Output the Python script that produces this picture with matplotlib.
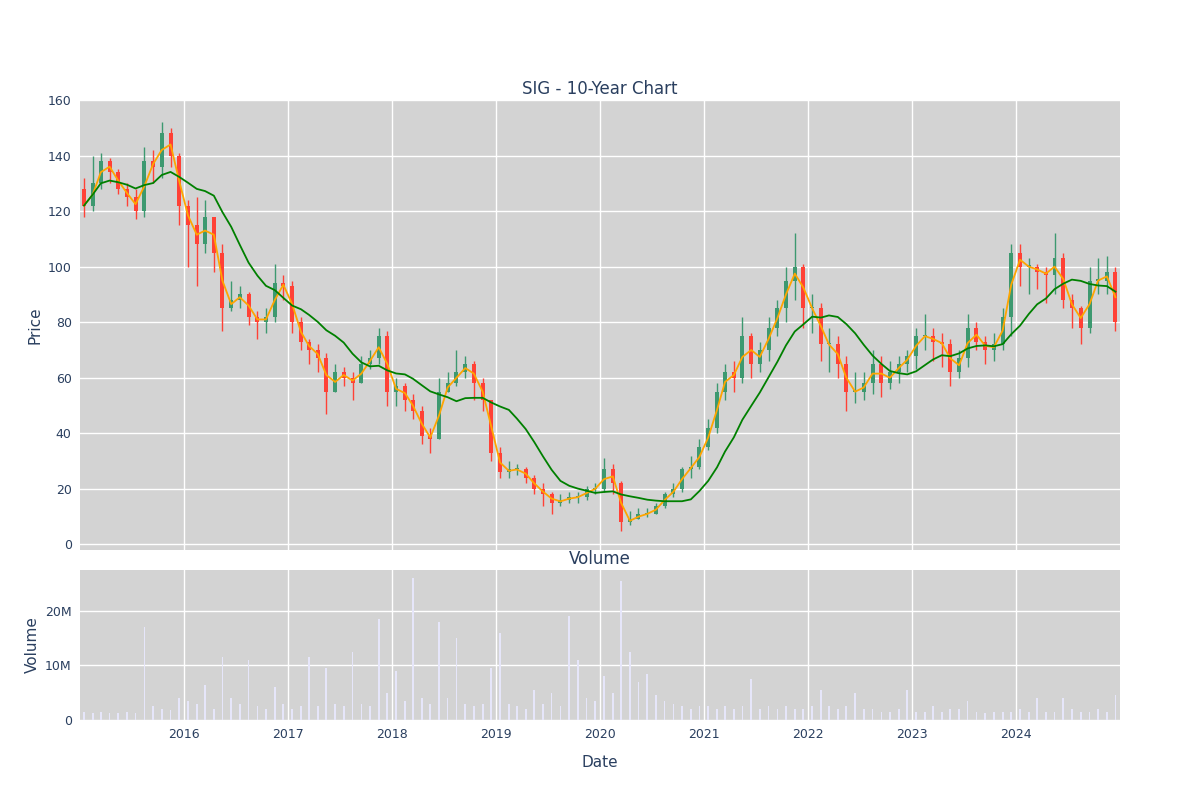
import matplotlib
matplotlib.use("Agg")
import matplotlib.pyplot as plt
import matplotlib.dates as mdates
import pandas as pd
import numpy as np

months = pd.date_range("2015-01-01", periods=120, freq="MS") + pd.Timedelta(days=14)
close = [122,130,138,134,128,125,120,138,136,148,140,122,
         115,108,118,105,85,88,90,82,80,82,94,93,
         80,73,70,67,55,62,60,58,65,67,75,55,
         57,52,48,39,38,55,58,62,65,58,52,33,
         26,27,27,24,20,18,15,16,17,17,20,20,
         27,22,8,9,11,11,14,18,20,27,28,35,
         42,55,62,60,75,65,70,78,85,95,100,85,
         85,72,72,65,55,55,58,65,58,62,65,68,
         75,75,73,72,62,67,78,73,70,72,82,105,
         100,100,98,97,103,88,85,78,95,95,98,80]
open_ = [128]+close[:-1]
high = [132,140,141,139,135,130,128,143,142,152,150,141,
        124,125,124,118,108,95,93,91,84,85,101,97,
        95,82,74,72,69,65,64,62,68,70,78,77,
        60,58,54,50,42,60,62,70,68,66,60,52,
        35,30,29,28,25,22,19,18,19,19,21,22,
        31,29,23,12,13,13,15,19,22,28,32,38,
        45,58,65,66,82,76,73,82,88,100,112,101,
        90,87,78,75,68,62,62,70,68,66,68,70,
        78,83,78,76,74,70,83,80,75,76,85,108,
        108,103,101,100,112,105,90,86,100,103,104,100]
low = [118,120,128,130,126,122,117,118,130,132,136,115,
       100,93,105,98,77,84,85,79,74,76,80,88,
       76,70,65,62,47,55,57,52,58,63,65,50,
       50,48,45,36,33,38,55,57,60,52,48,30,
       24,24,25,22,18,14,11,14,15,15,16,18,
       19,18,5,7,9,10,11,13,17,19,24,27,
       34,40,52,55,58,60,62,66,75,80,88,78,
       76,66,62,60,48,51,52,54,53,56,58,62,
       63,70,66,64,57,60,64,70,65,66,70,75,
       93,90,92,87,90,85,78,72,76,90,90,77]
volume_m = [1.5,1.2,1.5,1.3,1.2,1.5,1.3,17,2.5,2,1.8,4,
            3.5,3,6.5,2,11.5,4,3,11,2.5,2,6,3,
            2,2.5,11.5,2.5,9.5,3,2.5,12.5,3,2.5,18.5,5,
            9,3.5,26,4,3,18,4,15,3,2.5,3,9.5,
            16,3,2.5,2,5.5,3,5,2.5,19,11,4,3.5,
            8,5,25.5,12.5,7,8.5,4.5,3.5,3,2.5,2,2.5,
            2.5,2,2.5,2,2.5,7.5,2,2.5,2,2.5,2,2,
            2.5,5.5,2.5,2,2.5,5,2,2,1.5,1.5,2,5.5,
            1.5,1.5,2.5,1.5,2,2,3.5,1.5,1.2,1.5,1.5,1.5,
            2,1.5,4,1.5,1.5,4,2,1.5,1.5,2,1.5,4.5]

s = pd.Series(close, index=months)
ma_short = s.rolling(2, min_periods=1).mean()
ma_long = s.rolling(9, min_periods=1).mean()

txt = "#2a3f5f"
fig = plt.figure(figsize=(12, 8), dpi=100)
ax = fig.add_axes([80/1200, 1-550/800, 1040/1200, 450/800])
axv = fig.add_axes([80/1200, 1-720/800, 1040/1200, 150/800], sharex=ax)
for a in (ax, axv):
    a.set_facecolor("#d3d3d3")
    a.grid(True, color="white", linewidth=1)
    a.set_axisbelow(True)
    for sp in a.spines.values():
        sp.set_visible(False)
    a.tick_params(length=0, labelsize=9, colors=txt, pad=6)

w = 14
for d, o, h, l, c in zip(months, open_, high, low, close):
    col = "#3D9970" if c >= o else "#FF4136"
    ax.vlines(d, l, h, color=col, linewidth=1)
    ax.bar(d, abs(c-o) if c != o else 0.5, bottom=min(o, c), width=w, color=col)
ax.plot(months, ma_short, color="orange", linewidth=1.3)
ax.plot(months, ma_long, color="green", linewidth=1.3)
ax.set_ylim(-2, 160)
ax.set_yticks(range(0, 161, 20))
ax.set_xlim(pd.Timestamp("2015-01-01"), pd.Timestamp("2024-12-31"))
ax.tick_params(labelbottom=False)
ax.set_ylabel("Price", color=txt, fontsize=11)
ax.set_title("SIG - 10-Year Chart", color=txt, fontsize=12, pad=4)

axv.bar(months, volume_m, width=6, color="#e6e6fa")
axv.set_ylim(0, 27.5)
axv.set_yticks([0, 10, 20])
axv.set_yticklabels(["0", "10M", "20M"])
axv.set_ylabel("Volume", color=txt, fontsize=11)
axv.set_xlabel("Date", color=txt, fontsize=11, labelpad=10)
axv.set_title("Volume", color=txt, fontsize=12, pad=4)
axv.set_xticks([pd.Timestamp(f"{y}-01-01") for y in range(2016, 2025)])
axv.xaxis.set_major_formatter(mdates.DateFormatter("%Y"))
fig.savefig("out.png")
